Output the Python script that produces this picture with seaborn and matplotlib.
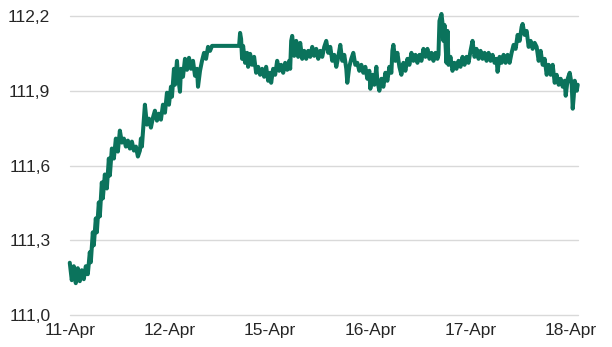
import numpy as np
import pandas as pd
import matplotlib
matplotlib.use("Agg")
import matplotlib.pyplot as plt
import seaborn as sns

# trading-day axis (weekend removed): 0 = 11-Apr, 1 = 12-Apr, 2 = 15-Apr ...
days = [
    0.00, 0.02, 0.04, 0.06, 0.08, 0.10, 0.12, 0.14, 0.16, 0.18,
    0.20, 0.21, 0.23, 0.24, 0.26, 0.27, 0.29, 0.30, 0.32, 0.33,
    0.35, 0.37, 0.39, 0.40, 0.42, 0.44, 0.46, 0.48, 0.50, 0.52,
    0.54, 0.56, 0.58, 0.60, 0.62, 0.64, 0.66, 0.68, 0.70, 0.71,
    0.72, 0.74, 0.75, 0.77, 0.79, 0.81, 0.83, 0.85, 0.87, 0.89,
    0.91, 0.93, 0.95, 0.97, 0.99, 1.01, 1.02, 1.04, 1.05, 1.07,
    1.08, 1.10, 1.11, 1.13, 1.15, 1.17, 1.19, 1.21, 1.23, 1.25,
    1.27, 1.28, 1.30, 1.32, 1.34, 1.36, 1.38, 1.40, 1.42, 1.69,
    1.70, 1.71, 1.72, 1.73, 1.75, 1.77, 1.78, 1.80, 1.82, 1.84,
    1.86, 1.88, 1.90, 1.92, 1.94, 1.96, 1.98, 2.00, 2.01, 2.03,
    2.05, 2.07, 2.09, 2.11, 2.13, 2.15, 2.17, 2.19, 2.20, 2.21,
    2.22, 2.24, 2.26, 2.28, 2.30, 2.32, 2.34, 2.36, 2.38, 2.40,
    2.42, 2.44, 2.46, 2.48, 2.50, 2.52, 2.54, 2.56, 2.58, 2.60,
    2.62, 2.64, 2.66, 2.68, 2.70, 2.72, 2.74, 2.76, 2.77, 2.79,
    2.81, 2.83, 2.85, 2.87, 2.89, 2.91, 2.93, 2.95, 2.97, 2.99,
    3.00, 3.02, 3.04, 3.06, 3.07, 3.09, 3.11, 3.13, 3.15, 3.17,
    3.19, 3.21, 3.22, 3.23, 3.25, 3.27, 3.29, 3.31, 3.33, 3.35,
    3.37, 3.39, 3.41, 3.43, 3.45, 3.47, 3.49, 3.51, 3.53, 3.55,
    3.57, 3.59, 3.61, 3.63, 3.65, 3.67, 3.68, 3.69, 3.71, 3.72,
    3.73, 3.74, 3.76, 3.77, 3.78, 3.80, 3.82, 3.84, 3.86, 3.88,
    3.90, 3.92, 3.94, 3.96, 3.98, 4.00, 4.02, 4.04, 4.06, 4.08,
    4.10, 4.12, 4.14, 4.16, 4.18, 4.20, 4.22, 4.24, 4.26, 4.27,
    4.29, 4.31, 4.33, 4.35, 4.37, 4.39, 4.41, 4.43, 4.45, 4.47,
    4.49, 4.51, 4.52, 4.54, 4.56, 4.58, 4.60, 4.62, 4.64, 4.66,
    4.68, 4.70, 4.72, 4.74, 4.76, 4.78, 4.80, 4.82, 4.84, 4.86,
    4.88, 4.90, 4.92, 4.94, 4.95, 4.97, 4.99, 5.01, 5.02, 5.03,
    5.04, 5.06, 5.07,
]

rate = [
    111.210, 111.140, 111.196, 111.128, 111.188, 111.136, 111.180, 111.144, 111.196, 111.164,
    111.252, 111.212, 111.332, 111.280, 111.388, 111.332, 111.452, 111.396, 111.532, 111.468,
    111.564, 111.508, 111.628, 111.560, 111.668, 111.628, 111.708, 111.656, 111.740, 111.692,
    111.708, 111.676, 111.700, 111.668, 111.696, 111.660, 111.676, 111.636, 111.660, 111.708,
    111.676, 111.788, 111.844, 111.764, 111.788, 111.752, 111.792, 111.820, 111.780, 111.808,
    111.784, 111.844, 111.812, 111.892, 111.844, 111.916, 111.876, 111.988, 111.924, 112.020,
    111.960, 111.896, 111.988, 111.956, 112.028, 111.984, 112.032, 111.988, 112.020, 111.960,
    111.988, 111.916, 111.980, 112.020, 112.052, 112.028, 112.076, 112.060, 112.080, 112.080,
    112.132, 112.108, 112.028, 112.080, 112.012, 112.052, 111.996, 112.048, 112.004, 112.036,
    111.972, 111.996, 111.964, 111.988, 111.956, 111.996, 111.940, 111.972, 111.932, 111.988,
    111.964, 112.020, 111.980, 112.004, 111.972, 112.012, 111.984, 112.020, 111.988, 112.100,
    112.120, 112.040, 112.100, 112.036, 112.092, 112.028, 112.060, 112.028, 112.060, 112.036,
    112.076, 112.040, 112.068, 112.028, 112.060, 112.036, 112.076, 112.100, 112.052, 112.076,
    112.020, 112.044, 111.996, 112.036, 112.084, 112.020, 112.044, 111.988, 111.932, 111.996,
    112.028, 112.052, 112.004, 112.012, 111.980, 112.004, 111.972, 111.996, 111.948, 111.980,
    111.908, 111.964, 111.924, 111.996, 111.940, 111.900, 111.948, 111.916, 111.972, 111.940,
    111.996, 111.972, 112.060, 112.084, 112.020, 112.052, 111.996, 111.964, 112.012, 111.980,
    112.028, 112.004, 112.052, 112.020, 112.044, 112.012, 112.044, 112.020, 112.068, 112.036,
    112.068, 112.028, 112.052, 112.020, 112.052, 112.028, 112.044, 112.180, 112.208, 112.172,
    112.100, 112.164, 112.012, 112.140, 112.004, 112.036, 111.980, 112.012, 111.988, 112.020,
    111.996, 112.036, 112.004, 112.036, 112.012, 112.060, 112.100, 112.036, 112.068, 112.028,
    112.060, 112.028, 112.052, 112.020, 112.052, 112.020, 112.044, 112.012, 112.028, 111.976,
    112.036, 112.012, 112.044, 112.012, 112.044, 112.012, 112.052, 112.084, 112.068, 112.124,
    112.100, 112.156, 112.168, 112.124, 112.140, 112.076, 112.100, 112.068, 112.092, 112.076,
    112.020, 112.060, 112.004, 112.028, 111.964, 112.004, 111.964, 112.004, 111.932, 111.964,
    111.924, 111.948, 111.916, 111.940, 111.880, 111.948, 111.972, 111.924, 111.828, 111.876,
    111.940, 111.900, 111.924,
]

tick_pos = [0, 1, 2, 3, 4, 5]
tick_labels = ["11-Apr", "12-Apr", "15-Apr", "16-Apr", "17-Apr", "18-Apr"]
y_ticks = [111.0, 111.3, 111.6, 111.9, 112.2]

df = pd.DataFrame({"day": days, "rate": rate})

sns.set_style("white")
plt.rcParams["font.family"] = ["Liberation Sans", "DejaVu Sans"]

fig = plt.figure(figsize=(6.12, 3.47), dpi=100)
ax = fig.add_axes([0.114, 0.092, 0.830, 0.862])

sns.lineplot(data=df, x="day", y="rate", color="#0b735c", linewidth=2.9,
             sort=False, estimator=None, ax=ax, clip_on=False)

ax.set_xlim(0, 5.07)
ax.set_ylim(111.0, 112.2)
ax.set_yticks(y_ticks)
ax.set_yticklabels([f"{v:.1f}".replace(".", ",") for v in y_ticks], fontsize=12.5, color="#262626")
ax.set_xticks(tick_pos)
ax.set_xticklabels(tick_labels, fontsize=12.5, color="#262626")
ax.tick_params(axis="both", length=0)
ax.tick_params(axis="y", pad=14)
ax.tick_params(axis="x", pad=6)
ax.yaxis.grid(True, color="#d9d9d9", linewidth=1)
ax.xaxis.grid(False)
for gl in ax.get_ygridlines():
    gl.set_clip_on(False)
ax.set_axisbelow(True)
for s in ax.spines.values():
    s.set_visible(False)
ax.set_xlabel("")
ax.set_ylabel("")

fig.savefig("out.png", dpi=100)
